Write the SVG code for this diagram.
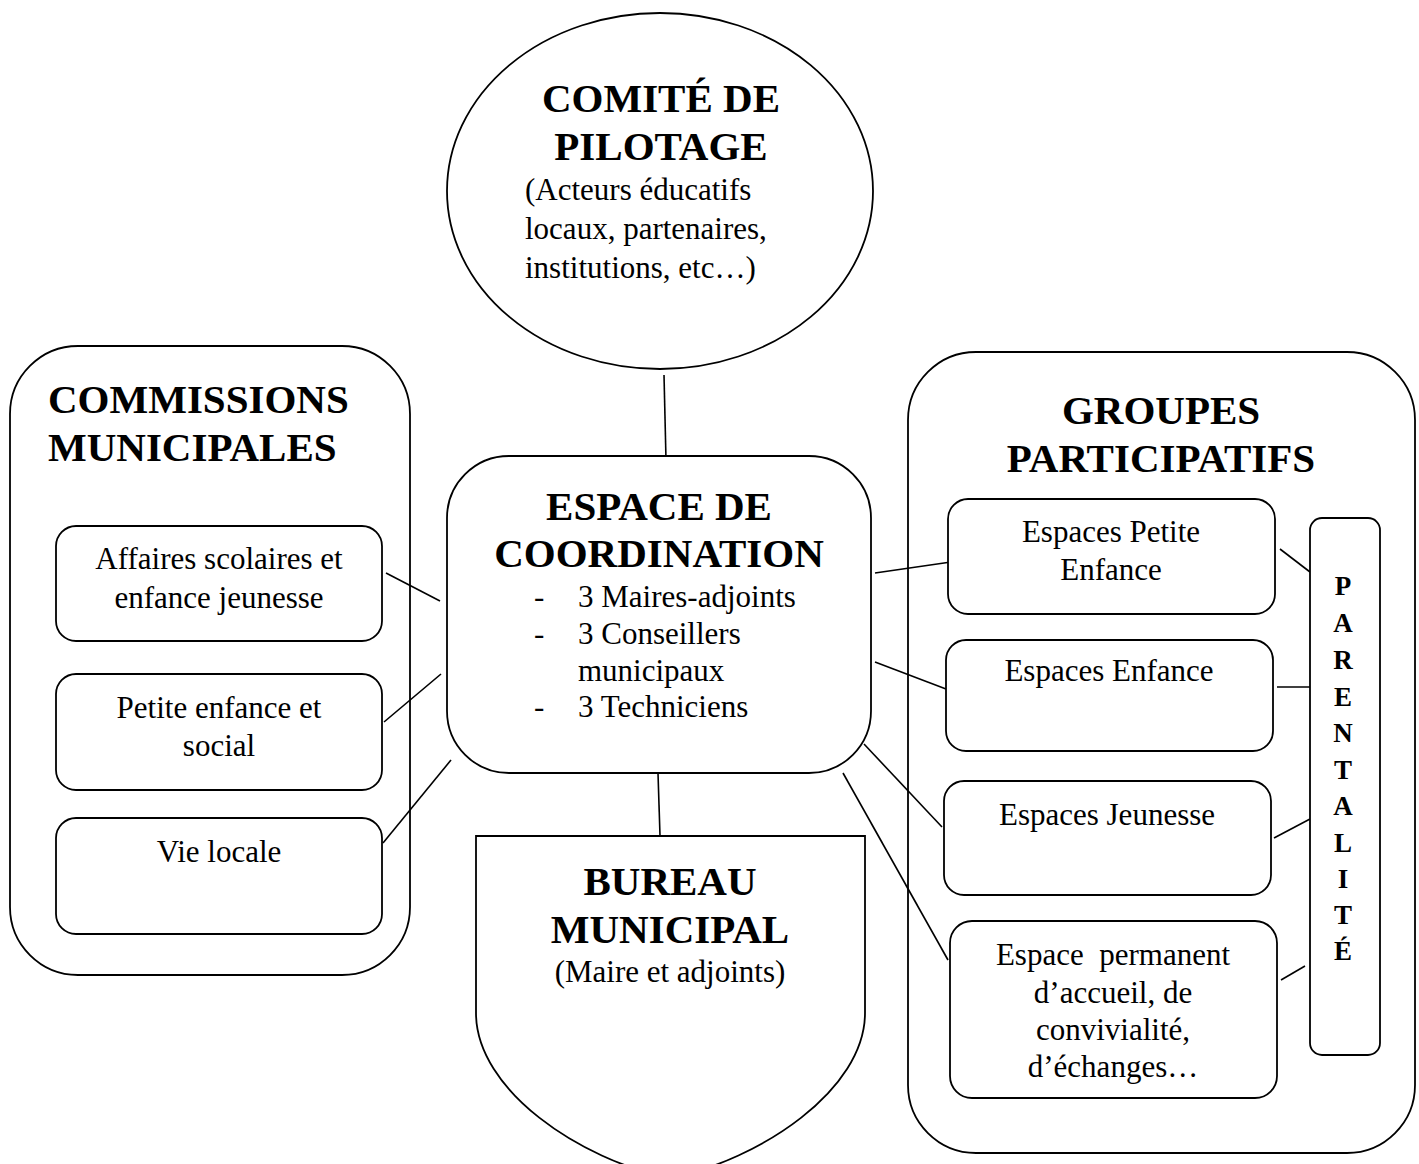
<svg xmlns="http://www.w3.org/2000/svg" width="1419" height="1164" viewBox="0 0 1419 1164">
<style>
.s{fill:#fff;stroke:#000;stroke-width:1.8}
.c line{stroke:#000;stroke-width:1.6}
.h{font-family:"Liberation Serif",serif;font-weight:bold;font-size:41px;fill:#000}
.t{font-family:"Liberation Serif",serif;font-size:31px;fill:#000}
.m{text-anchor:middle}
.p{font-family:"Liberation Serif",serif;font-weight:bold;font-size:27px;text-anchor:middle;fill:#000}
</style>
<rect width="1419" height="1164" fill="#fff"/>
<g id="commissions">
<rect class="s" x="10" y="346" width="400" height="629" rx="68"/>
<text class="h" x="48" y="413">COMMISSIONS</text>
<text class="h" x="48" y="461">MUNICIPALES</text>
</g>
<g id="groupes">
<rect class="s" x="908" y="352" width="507" height="801" rx="68"/>
<text class="h m" x="1161" y="424">GROUPES</text>
<text class="h m" x="1161" y="472">PARTICIPATIFS</text>
</g>
<g class="c" id="connectors">
<line x1="664" y1="375" x2="666" y2="460"/>
<line x1="386" y1="573" x2="440" y2="601"/>
<line x1="384" y1="722" x2="441" y2="674"/>
<line x1="383" y1="843" x2="451" y2="760"/>
<line x1="875" y1="573" x2="951" y2="562"/>
<line x1="875" y1="662" x2="946" y2="689"/>
<line x1="864" y1="744" x2="942" y2="827"/>
<line x1="843" y1="773" x2="948" y2="960"/>
<line x1="658" y1="773" x2="660" y2="836"/>
<line x1="1280" y1="549" x2="1310" y2="572"/>
<line x1="1277" y1="687" x2="1310" y2="687"/>
<line x1="1274" y1="838" x2="1310" y2="819"/>
<line x1="1281" y1="980" x2="1305" y2="966"/>
</g>
<g id="comite">
<ellipse class="s" cx="660" cy="191" rx="213" ry="178"/>
<text class="h m" x="661" y="112">COMITÉ DE</text>
<text class="h m" x="661" y="160">PILOTAGE</text>
<text class="t" x="525" y="200">(Acteurs éducatifs</text>
<text class="t" x="525" y="239">locaux, partenaires,</text>
<text class="t" x="525" y="278">institutions, etc…)</text>
</g>
<g id="espace-coordination">
<rect class="s" x="447" y="456" width="424" height="317" rx="62"/>
<text class="h m" x="659" y="520">ESPACE DE</text>
<text class="h m" x="659" y="567">COORDINATION</text>
<text class="t" x="534" y="607">-</text>
<text class="t" x="578" y="607">3 Maires-adjoints</text>
<text class="t" x="534" y="644">-</text>
<text class="t" x="578" y="644">3 Conseillers</text>
<text class="t" x="578" y="681">municipaux</text>
<text class="t" x="534" y="717">-</text>
<text class="t" x="578" y="717">3 Techniciens</text>
</g>
<g id="bureau">
<path class="s" d="M476,836 H865 V1013 C865,1090 760,1160 670,1178 C580,1160 476,1090 476,1013 Z"/>
<text class="h m" x="670" y="895">BUREAU</text>
<text class="h m" x="670" y="943">MUNICIPAL</text>
<text class="t m" x="670" y="982">(Maire et adjoints)</text>
</g>
<g id="affaires">
<rect class="s" x="56" y="526" width="326" height="115" rx="20"/>
<text class="t m" x="219" y="569">Affaires scolaires et</text>
<text class="t m" x="219" y="608">enfance jeunesse</text>
</g>
<g id="petite-enfance">
<rect class="s" x="56" y="674" width="326" height="116" rx="20"/>
<text class="t m" x="219" y="718">Petite enfance et</text>
<text class="t m" x="219" y="756">social</text>
</g>
<g id="vie-locale">
<rect class="s" x="56" y="818" width="326" height="116" rx="20"/>
<text class="t m" x="219" y="862">Vie locale</text>
</g>
<g id="espaces-petite-enfance">
<rect class="s" x="948" y="499" width="327" height="115" rx="20"/>
<text class="t m" x="1111" y="542">Espaces Petite</text>
<text class="t m" x="1111" y="580">Enfance</text>
</g>
<g id="espaces-enfance">
<rect class="s" x="946" y="640" width="327" height="111" rx="20"/>
<text class="t m" x="1109" y="681">Espaces Enfance</text>
</g>
<g id="espaces-jeunesse">
<rect class="s" x="944" y="781" width="327" height="114" rx="20"/>
<text class="t m" x="1107" y="825">Espaces Jeunesse</text>
</g>
<g id="espace-permanent">
<rect class="s" x="950" y="921" width="327" height="177" rx="22"/>
<text class="t m" x="1113" y="965" xml:space="preserve">Espace  permanent</text>
<text class="t m" x="1113" y="1003">d’accueil, de</text>
<text class="t m" x="1113" y="1040">convivialité,</text>
<text class="t m" x="1113" y="1077">d’échanges…</text>
</g>
<g id="parentalite">
<rect class="s" x="1310" y="518" width="70" height="537" rx="12"/>
<text class="p" x="1343" y="595">P</text>
<text class="p" x="1343" y="632">A</text>
<text class="p" x="1343" y="669">R</text>
<text class="p" x="1343" y="706">E</text>
<text class="p" x="1343" y="742">N</text>
<text class="p" x="1343" y="779">T</text>
<text class="p" x="1343" y="815">A</text>
<text class="p" x="1343" y="852">L</text>
<text class="p" x="1343" y="888">I</text>
<text class="p" x="1343" y="924">T</text>
<text class="p" x="1343" y="960">É</text>
</g>
</svg>
